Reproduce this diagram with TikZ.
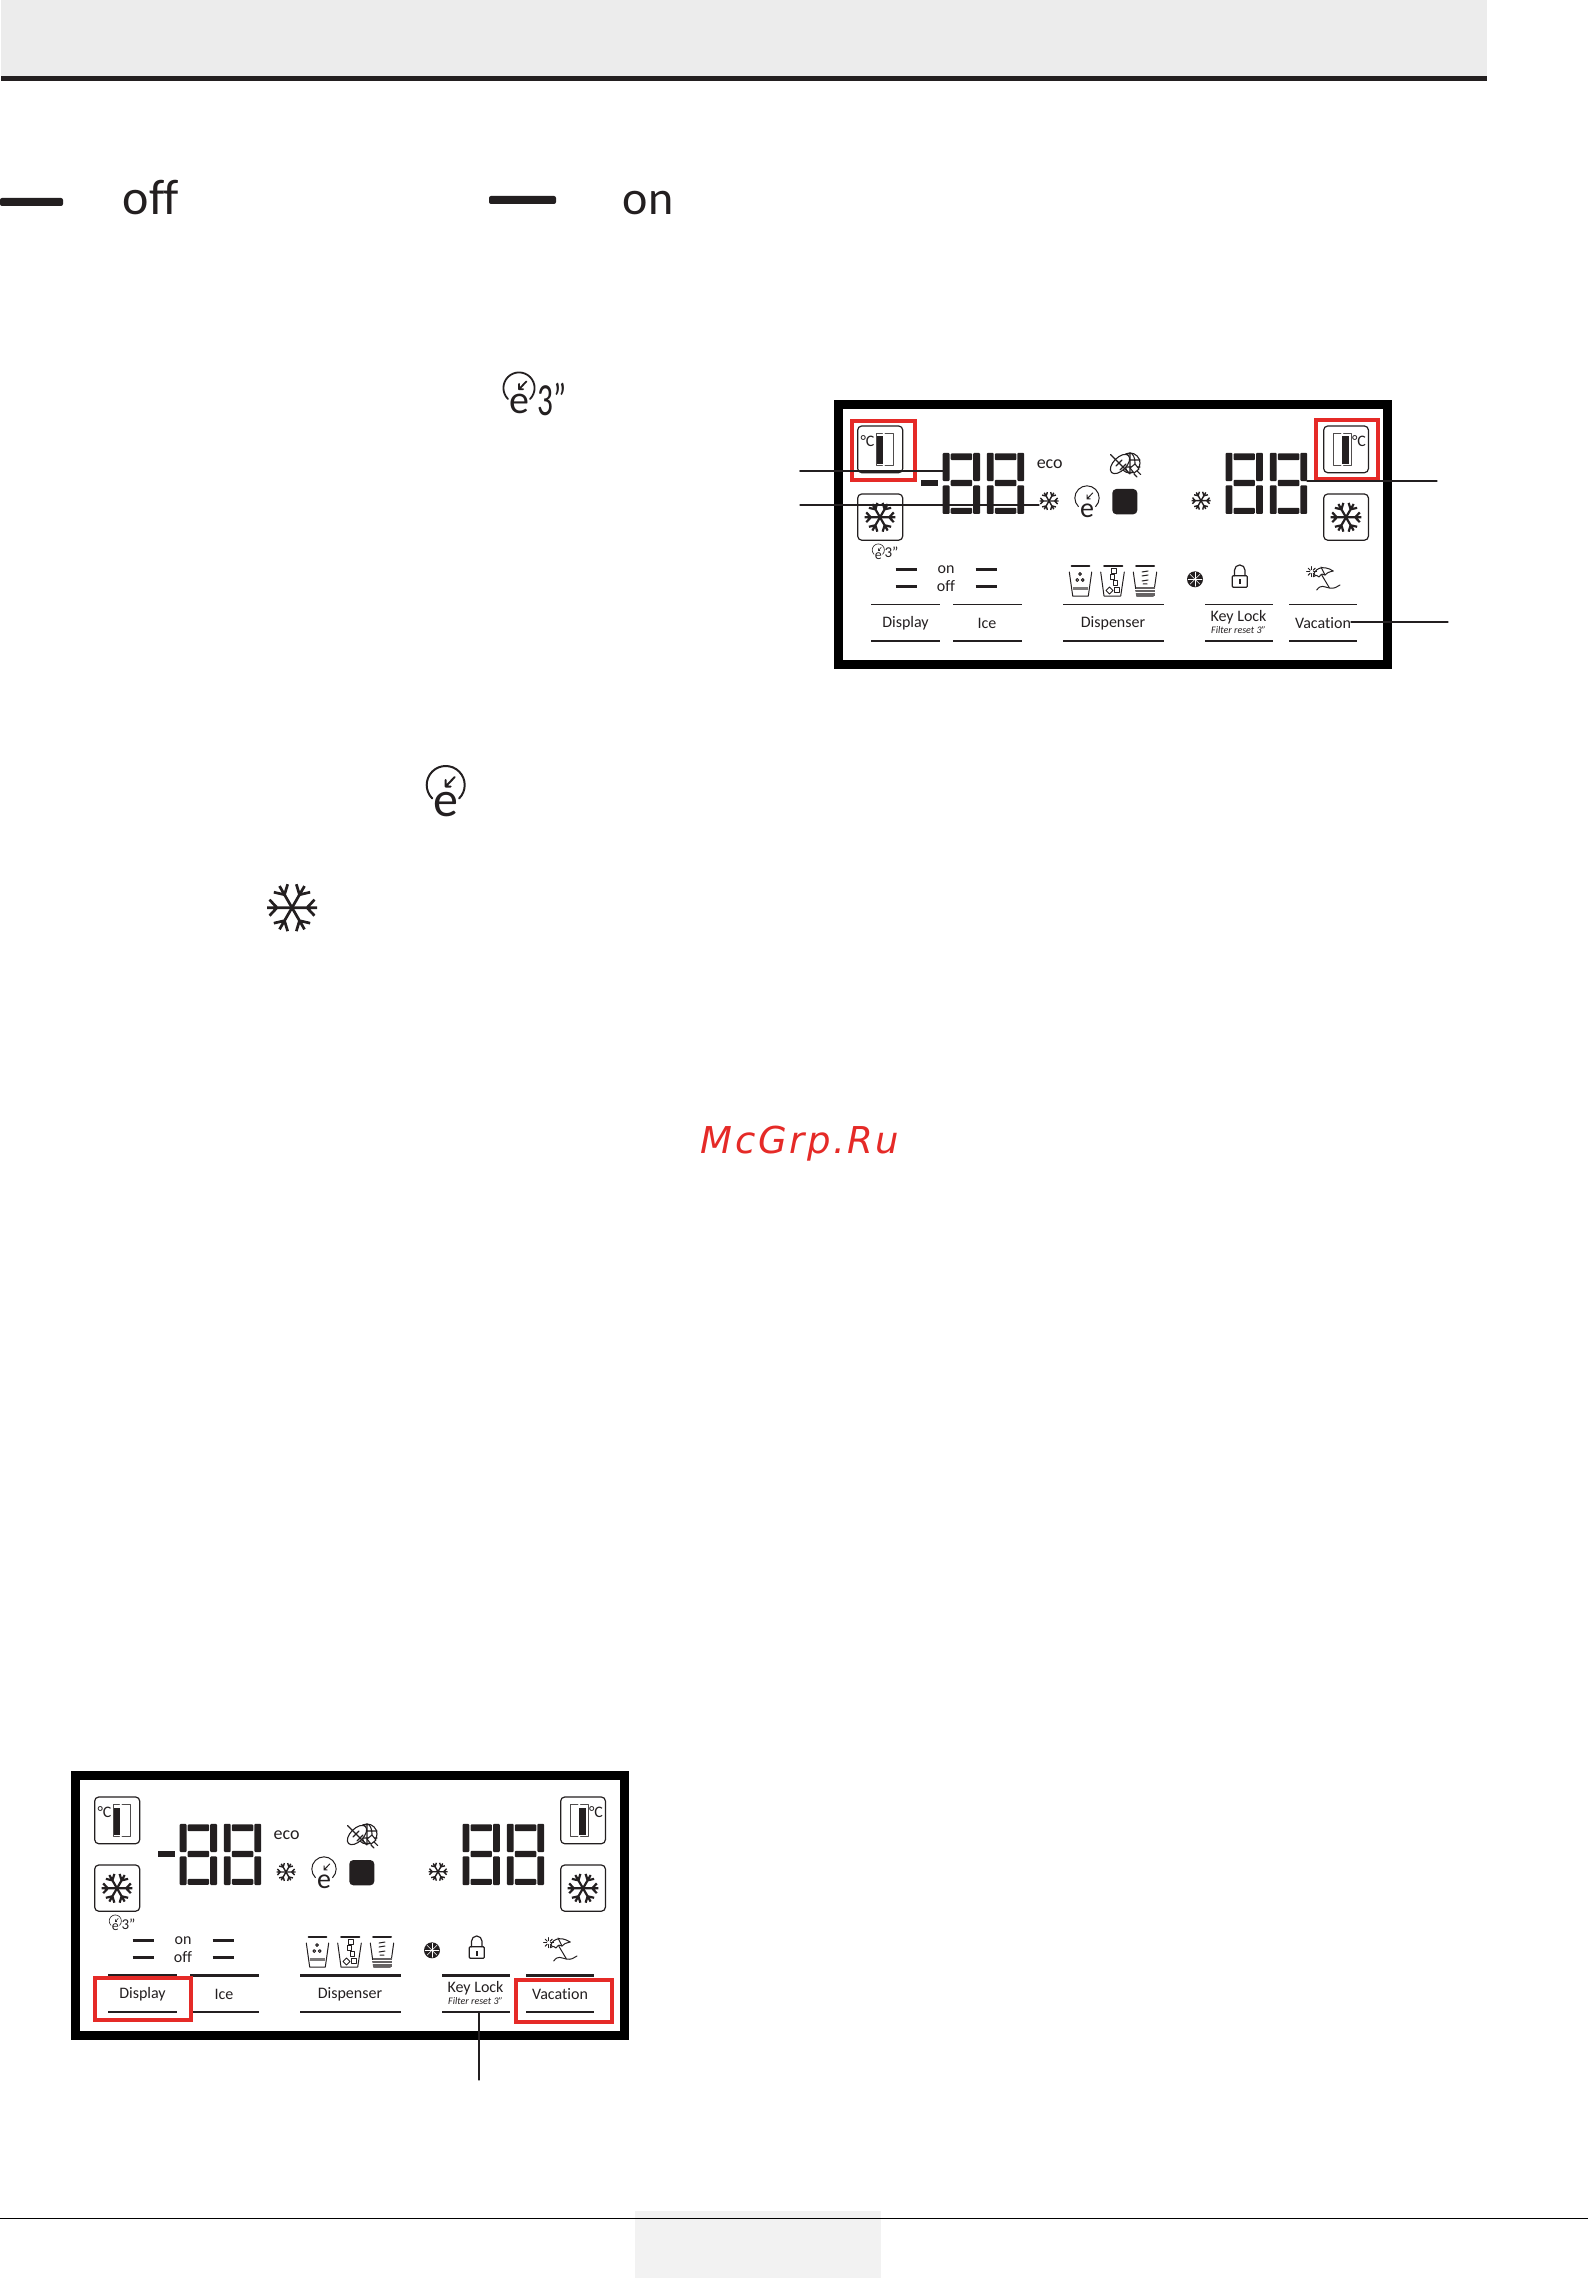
\documentclass[tikz,border=0pt]{standalone}
\usepackage{fontspec}
\setmainfont{Carlito}[Ligatures={NoCommon}]
\newfontfamily\markfont[LetterSpace=7]{DejaVu Sans}
\definecolor{ink}{HTML}{231F20}
\definecolor{markred}{HTML}{E52A27}
\definecolor{headgray}{HTML}{ECECEC}
\definecolor{footgray}{HTML}{F2F2F2}
\newcommand{\fs}[1]{\fontsize{#1}{#1}\selectfont}
\tikzset{
	lcdlabel/.style={font=\fs{8},inner sep=0,ink},
	lcdsmall/.style={font=\fs{7.5},inner sep=0,ink},
	keybox/.style={draw=ink,line width=.6pt,rounded corners=2pt},
	redmark/.style={draw=markred,line width=2pt,line join=miter},
	leader/.style={ink,line width=.6pt},
	flake/.pic={
		\foreach \ang in {0,60,...,300}{
			\begin{scope}[rotate=\ang]
			\draw[line cap=butt] (0,0)--(1,0) (.6,0)--(.9,.32) (.6,0)--(.9,-.32);
			\end{scope}
		}
	},
	eclock/.pic={
		\draw (135:19) arc[start angle=135,end angle=405,radius=19];
		\draw (9,-8)--(0,1.5) (0,-5)--(0,1.5)--(5,1.5);
		\path (0,20)node[inner sep=0,ink,font=\fs{#1}](-e){e};
	},
	eightseg/.pic={
		\foreach \xa/\ya/\xb/\yb in {0/.5/6.8/28.8,0/33/6.8/61.7,30.5/.5/37.3/28.8,30.5/33/37.3/61.7,
			8/1/29.4/7.9,8/27.5/29.4/33.9,8/55.5/29.4/61.5}{
			\fill[ink,rounded corners=.5pt] (\xa,\ya) rectangle (\xb,\yb);
		}
	}
}
\newcommand{\lcdpanel}[4]{
	\begin{scope}[shift={(#2)}]
	\draw[black,line width=4.5pt,line join=miter] (4.5,4.5) rectangle (553.5,264.5);
	\draw[keybox] (23.7,26) rectangle (68.7,72.7);
	\draw[keybox] (489.7,26) rectangle (534.4,72.7);
	\draw[keybox] (23.7,94) rectangle (68.7,140.2);
	\draw[keybox] (489.7,94) rectangle (534.4,140.2);
	\path (33.5,41)node[lcdlabel](#1-cl){°C};
	\path (525,41)node[lcdlabel](#1-cr){°C};
	\draw[ink!80,line width=.4pt] (48.5,33.5)--(42,33.5)--(42,65.5)--(48.5,65.5)
	(51,33.5)--(59,33.5)--(59,65.5)--(51,65.5)
	(507,33.5)--(499.8,33.5)--(499.8,65.5)--(507,65.5)
	(509.5,33.5)--(517,33.5)--(517,65.5)--(509.5,65.5);
	\fill[ink] (43,36.5) rectangle (49.3,64);
	\fill[ink] (508,36.5) rectangle (515,64);
	\pic[scale=15.3,line width=1.1pt,ink] at (46,117.3){flake};
	\pic[scale=15.3,line width=1.1pt,ink] at (512,117.3){flake};
	\pic[scale=9.5,line width=.7pt,ink] at (215,101){flake};
	\pic[scale=9.5,line width=.7pt,ink] at (367,100.7){flake};
	\pic (#1-big)[scale=.64,line width=.5pt,ink] at (253,98){eclock=14};
	\pic (#1-tiny)[scale=.32,line width=.3pt,ink] at (44.3,150){eclock=7};
	\path (57.5,158)node[anchor=base,lcdsmall](#1-tri){3"};
	\pic at (108.7,52.3){eightseg};
	\pic at (152.9,52.3){eightseg};
	\pic at (391.5,52.3){eightseg};
	\pic at (435.9,52.3){eightseg};
	\fill[ink] (87,80) rectangle (104,86);
	\path (215.7,64)node[font=\fs{9},inner sep=0,ink](#1-eco){eco};
	\fill[ink,rounded corners=2pt] (278.3,89) rectangle (303.3,114.3);
	\begin{scope}[ink,line width=.55pt]
	\draw (296,63) circle[radius=10];
	\draw (296,53)--(296,73) (286,60)--(306,60) (286,67)--(306,67) (296,63) ellipse[x radius=5,y radius=10];
	\draw[fill=white,rotate around={45:(286,64)}] (286,64) ellipse[x radius=12,y radius=6.5];
	\draw (276.5,54.5)--(296,74) (282,66)--(288,60) (286,70)--(292,64);
	\draw[fill=white] (296,68)--(301,64)--(305,69)--(300,73)--cycle (303,71)--(306.7,74.5) (300,74)--(303,77);
	\end{scope}
	\path (112,169.8)node[lcdlabel](#1-on){on};
	\path (112,186.5)node[lcdlabel](#1-off){off};
	\begin{scope}[ink,line width=1.25pt,line cap=butt]
	\draw (61.7,169.3)--(83.3,169.3) (61.7,186.7)--(83.3,186.7);
	\draw (141.7,169.3)--(163,169.3) (141.7,186.7)--(163,186.7);
	\end{scope}
	\begin{scope}[ink,line width=.5pt]
	\draw[line width=1pt] (237.7,166)--(255.3,166) (270,166)--(288.3,166) (302,166)--(320,166);
	\draw (235.3,172)--(238.7,196)--(254.3,196)--(257.7,172);
	\draw (266.7,172)--(270,196)--(286.7,196)--(290.3,172);
	\draw (299.3,172)--(302.7,196)--(319.3,196)--(322.7,172);
	\draw (246,174) circle[radius=1.4] (243.3,180) circle[radius=1.4] (248.7,180) circle[radius=1.4];
	\fill[ink!60] (239,187) rectangle (254,190);
	\foreach \qx/\qy in {280/171,278.5/177,281.5/183,283/190}{
		\draw[line width=.4pt] (\qx-2.2,\qy-2.2) rectangle (\qx+2.2,\qy+2.2);
	}
	\draw[line width=.4pt] (275.5,187)--(279,190.5)--(275.5,194)--(272,190.5)--cycle;
	\draw (308,172)--(314,171) (308,176)--(314,175) (308,181)--(314,180) (309,184)--(313,184);
	\fill[ink!70] (301.5,187) rectangle (320.5,196);
	\draw[white,line width=.35pt] (301,189.8)--(321,189.8) (301,192.6)--(321,192.6);
	\end{scope}
	\fill[ink] (361,179.3) circle[radius=8];
	\foreach \ang in {0,45,...,135}{
		\draw[white,line width=.25pt,rotate around={\ang:(361,179.3)}] (354,179.3)--(368,179.3);
	}
	\begin{scope}[ink,line width=.6pt]
	\draw[rounded corners=.5pt] (398.3,175.7) rectangle (413.3,187.3);
	\draw (400.5,175.7)--(400.5,170.2) arc[start angle=180,end angle=360,radius=5.25]--(411,175.7);
	\fill (405,179.5) rectangle (406.8,184.5);
	\end{scope}
	\begin{scope}[ink,line width=.5pt]
	\foreach \ang in {0,45,...,315}{
		\draw (477.7,171.7)++(\ang:2)--++(\ang:3);
	}
	\draw (479.3,176.7) .. controls (480,169) and (488,164) .. (499.3,171)
	.. controls (495,172) and (492,173) .. (491,175) .. controls (489,173) and (487,174) .. (485,177)
	.. controls (484,175) and (482,175) .. (479.3,176.7);
	\draw (487,167)--(491,175);
	\draw (487.7,175)--(495.3,187.7);
	\draw (482.7,190) .. controls (487,184) and (490,187) .. (495.3,188) .. controls (500,189) and (503,187) .. (506,185);
	\end{scope}
	\begin{scope}[ink,line width=#3,line cap=butt]
	\draw (37,204.3)--(106,204.3) (119,204.3)--(188,204.3) (229,204.3)--(330,204.3) (371,204.3)--(439,204.3) (455,204.3)--(523,204.3);
	\end{scope}
	\begin{scope}[ink,line width=#4,line cap=butt]
	\draw (37,241)--(106,241) (119,241)--(188,241) (229,241)--(330,241) (371,241)--(439,241) (455,241)--(523,241);
	\end{scope}
	\path (71.5,223)node[lcdlabel](#1-display){Display};
	\path (153,223)node[lcdlabel](#1-ice){Ice};
	\path (279,223)node[lcdlabel](#1-dispenser){Dispenser};
	\path (404.5,217)node[lcdlabel](#1-keylock){Key Lock};
	\path (404.5,230.5)node[inner sep=0,ink,font=\fs{5}\itshape](#1-filter){Filter reset 3"};
	\path (489,223)node[lcdlabel](#1-vacation){Vacation};
	\end{scope}
}
\begin{document}
\begin{tikzpicture}[x=.5pt,y=-.5pt,line join=round,line cap=round,>=stealth]
	\useasboundingbox (0,0) rectangle (1588,2278);
	\fill[headgray] (1,0) rectangle (1487,76);
	\fill[ink] (1,76) rectangle (1487,81);
	\fill[ink,rounded corners=1pt] (0,198) rectangle (63,206);
	\fill[ink,rounded corners=1pt] (489,196) rectangle (556,204);
	\path (151,215)node[anchor=base,inner sep=0,ink,font=\fs{25}](offtxt){off};
	\path (648,215)node[anchor=base,inner sep=0,ink,font=\fs{24}](ontxt){on};
	\pic (topclock)[scale=.82,line width=.9pt,ink] at (519,388){eclock=20};
	\path (552,416)node[anchor=base,inner sep=0,ink,font=\fs{23}](topthree){\scalebox{.68}[1]{3"}};
	\pic (midclock)[line width=1pt,ink] at (445.7,785){eclock=25};
	\pic[scale=25,line width=1.35pt,ink] at (292,907.7){flake};
	\path (800,1153)node[anchor=base,inner sep=0,markred,font=\fs{18.5}\markfont\itshape](mark){McGrp.Ru};
	\lcdpanel{ua}{834,400}{.65pt}{1.3pt}
	\lcdpanel{ub}{71,1771}{1.3pt}{.65pt}
	\draw[redmark] (852,421) rectangle (914.7,479.7);
	\draw[redmark] (1315.5,420) rectangle (1377.5,479);
	\draw[redmark] (95,1978) rectangle (191,2019.7);
	\draw[redmark] (515.6,1980) rectangle (612.4,2022);
	\coordinate (la) at (800,470.7);
	\coordinate (lae) at (943,470.7);
	\coordinate (lb) at (800,505);
	\coordinate (lbe) at (1039,505);
	\coordinate (lc) at (1437,481);
	\coordinate (lce) at (1307,481);
	\coordinate (ld) at (1448,622);
	\coordinate (lde) at (1351,622);
	\coordinate (le) at (479,2080);
	\coordinate (lee) at (479,2012.7);
	\draw[leader,line width=.9pt] (la)--(lae);
	\draw[leader] (lb)--(lbe);
	\draw[leader] (lc)--(lce);
	\draw[leader] (ld)--(lde);
	\draw[leader] (le)--(lee);
	\fill[footgray] (635,2211) rectangle (881,2278);
	\draw[black,line width=.8pt,line cap=butt] (0,2218.3)--(1588,2218.3);
\end{tikzpicture}
\end{document}
